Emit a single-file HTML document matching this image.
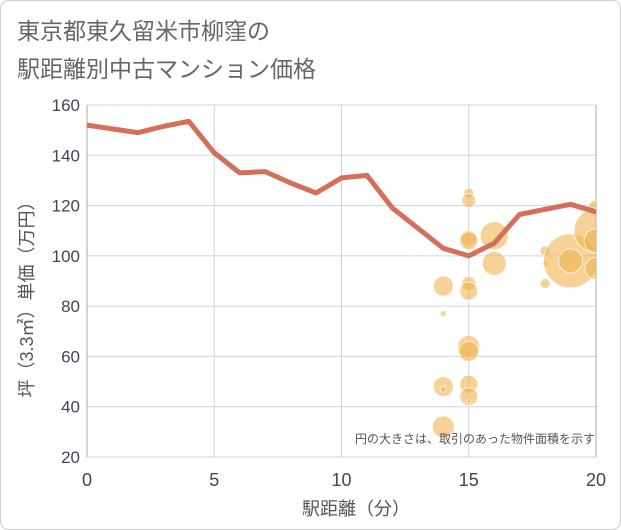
<!DOCTYPE html>
<html><head><meta charset="utf-8"><style>
html,body{margin:0;padding:0;background:#fff;}
svg{display:block;font-family:"Liberation Sans","Noto Sans CJK JP",sans-serif;}
</style></head><body>
<svg id="c" width="621" height="530">
<rect x="0.5" y="0.5" width="620" height="529" rx="8" fill="#fff" stroke="#ccc"/>
<text x="17" y="39" font-size="23" fill="#666">東京都東久留米市柳窪の</text>
<text x="17" y="77" font-size="23" fill="#666">駅距離別中古マンション価格</text>
<g id="grid"></g><g id="axes"></g>
<defs><clipPath id="pc"><rect x="87" y="105" width="509" height="352"/></clipPath></defs>
<g id="bubbles" clip-path="url(#pc)"></g>
<g id="line"></g>
<text x="595" y="443" font-size="12" fill="#555" text-anchor="end">円の大きさは、取引のあった物件面積を示す</text>
<text x="356" y="515" font-size="18" fill="#555" text-anchor="middle">駅距離（分）</text>
<text transform="translate(33,295) rotate(-90)" font-size="18" fill="#555" text-anchor="middle">坪（3.3㎡）単価（万円）</text>
</svg>
<script>
const xTicks=[0,5,10,15,20];
const yTicks=[20,40,60,80,100,120,140,160];
const lineX=[0,2,3,4,5,6,7,8,9,10,11,12,13,14,15,16,17,19,20];
const lineY=[152,149,151.5,153.5,141,133,133.5,129,125,131,132,119,111,103,100,105,116.5,120.5,117.5];
const bubX=[15,15,15,15,15,15,15,15,15,15,15,14,14,14,14,14,16,16,18,18,18,19,19,20,20,20,20];
const bubY=[125,122,107,106,89,86,64,62,49,44,42,88,77,48,47,32,108,97,102,97,89,98,98,119,110,106,95];
const bubR=[5,7,8,9,7,9,11,10,9,9,2,10,3,10,3,11,14,12,5,3,5,27,12,8,22,12,11];
const NS="http://www.w3.org/2000/svg";
const sx=v=>87+v*(509/20), sy=v=>105+(160-v)*(352/140);
function mk(t,a,p){const e=document.createElementNS(NS,t);for(const k in a)e.setAttribute(k,a[k]);document.getElementById(p).appendChild(e);return e;}
yTicks.forEach(v=>{
 const g=mk('line',{x1:87,x2:596,y1:sy(v),y2:sy(v),stroke:'#c8d6e4','stroke-width':1},'grid');
 
 
 const t=mk('text',{x:80,y:sy(v)+6,'font-size':17,fill:'#445','text-anchor':'end'},'axes');
 t.textContent=v;
 
 
});
xTicks.forEach(v=>{
 const g=mk('line',{x1:sx(v),x2:sx(v),y1:105,y2:457,stroke:v===0||v===20?'#aaa':'#c8d6e4','stroke-width':1},'grid');
 
 
 const t=mk('text',{x:sx(v),y:486,'font-size':18,fill:'#445','text-anchor':'middle'},'axes');
 t.textContent=v;
 
 
});
bubX.forEach((x,i)=>{
 const c=mk('circle',{cx:sx(x),cy:sy(bubY[i]),r:bubR[i],fill:'rgba(240,180,80,0.6)',stroke:'#fff','stroke-opacity':0.7,'stroke-width':1},'bubbles');
 
 
});
const p=mk('polyline',{points:lineX.map((x,i)=>sx(x)+','+sy(lineY[i])).join(' '),fill:'none',stroke:'#d4705a','stroke-width':5,'stroke-linejoin':'round'},'line');


</script>
</body></html>
